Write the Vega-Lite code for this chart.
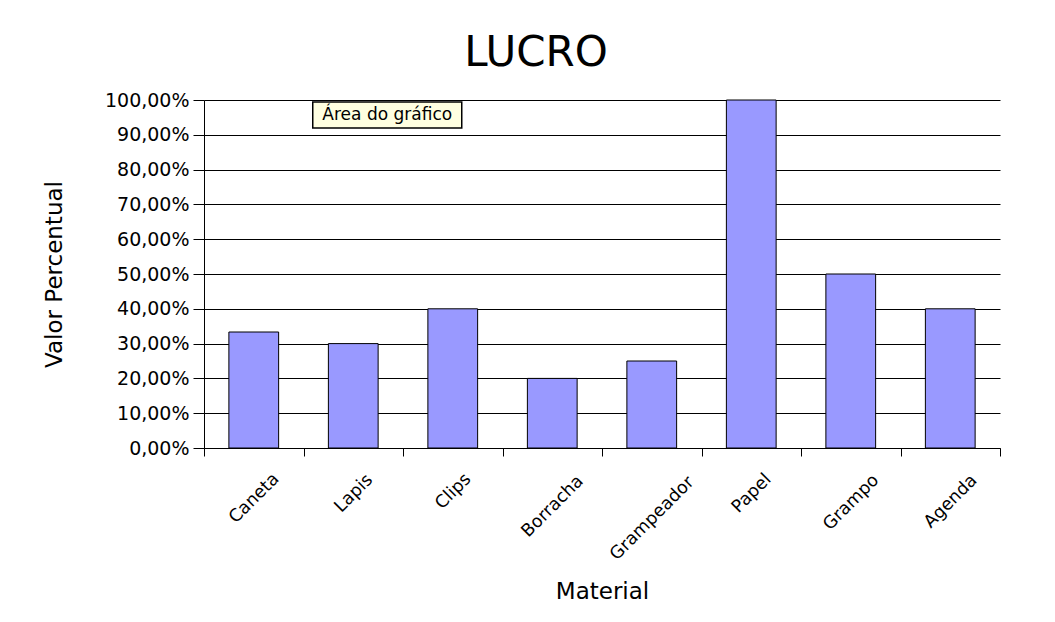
{
  "$schema": "https://vega.github.io/schema/vega-lite/v6.json",
  "autosize": {"type": "none"},
  "width": 796,
  "height": 348,
  "padding": {"left": 204, "top": 100, "right": 55, "bottom": 174},
  "background": "white",
  "title": {
    "text": "LUCRO",
    "font": "DejaVu Sans",
    "fontSize": 42,
    "fontWeight": "normal",
    "color": "black",
    "anchor": "middle",
    "dx": -66,
    "offset": 16
  },
  "config": {
    "view": {"stroke": null},
    "font": "DejaVu Sans"
  },
  "data": {
    "values": [
      {"Material": "Caneta", "Valor": 0.3333},
      {"Material": "Lapis", "Valor": 0.30},
      {"Material": "Clips", "Valor": 0.40},
      {"Material": "Borracha", "Valor": 0.20},
      {"Material": "Grampeador", "Valor": 0.25},
      {"Material": "Papel", "Valor": 1.00},
      {"Material": "Grampo", "Valor": 0.50},
      {"Material": "Agenda", "Valor": 0.40}
    ]
  },
  "encoding": {
    "x": {
      "field": "Material",
      "type": "nominal",
      "sort": ["Caneta", "Lapis", "Clips", "Borracha", "Grampeador", "Papel", "Grampo", "Agenda"],
      "scale": {"paddingInner": 0, "paddingOuter": 0},
      "axis": {
        "title": "Material",
        "titleFont": "DejaVu Sans",
        "titleFontSize": 23,
        "titleFontWeight": "normal",
        "titleColor": "black",
        "titlePadding": 18,
        "labelAngle": -45,
        "labelAlign": "center",
        "labelBaseline": "middle",
        "labelFontSize": 17.5,
        "labelColor": "black",
        "labelPadding": {
          "condition": [
            {"test": "datum.value === 'Caneta'", "value": 42},
            {"test": "datum.value === 'Lapis'", "value": 37},
            {"test": "datum.value === 'Clips'", "value": 35},
            {"test": "datum.value === 'Borracha'", "value": 50},
            {"test": "datum.value === 'Grampeador'", "value": 62},
            {"test": "datum.value === 'Papel'", "value": 37},
            {"test": "datum.value === 'Grampo'", "value": 46}
          ],
          "value": 45
        },
        "labelOverlap": false,
        "tickBand": "extent",
        "tickColor": "black",
        "tickSize": 8,
        "domainColor": "black",
        "grid": false
      }
    },
    "y": {
      "field": "Valor",
      "type": "quantitative",
      "scale": {"domain": [0, 1], "nice": false},
      "axis": {
        "title": "Valor Percentual",
        "titleFont": "DejaVu Sans",
        "titleFontSize": 23,
        "titleFontWeight": "normal",
        "titleColor": "black",
        "titlePadding": 38,
        "values": [0, 0.1, 0.2, 0.3, 0.4, 0.5, 0.6, 0.7, 0.8, 0.9, 1.0],
        "labelOverlap": false,
        "labelExpr": "replace(format(datum.value, '.2%'), '.', ',')",
        "labelFontSize": 19,
        "labelColor": "black",
        "labelPadding": 4,
        "tickColor": "black",
        "tickSize": 11,
        "domainColor": "black",
        "grid": true,
        "gridColor": "black",
        "gridOpacity": 1,
        "gridWidth": 1
      }
    }
  },
  "layer": [
    {
      "mark": {"type": "bar", "color": "#9999FF", "stroke": "black", "strokeWidth": 1, "width": {"band": 0.5}}
    },
    {
      "data": {"values": [{"Material": "Lapis", "Valor": 0.957, "Texto": "Área do gráfico"}]},
      "mark": {
        "type": "point",
        "shape": "M-1,-0.1745H1V0.1745H-1Z",
        "size": 22201,
        "filled": true,
        "fill": "#FFFFE1",
        "fillOpacity": 1,
        "stroke": "black",
        "strokeWidth": 1.5,
        "opacity": 1,
        "xOffset": 34
      }
    },
    {
      "data": {"values": [{"Material": "Lapis", "Valor": 0.957, "Texto": "Área do gráfico"}]},
      "mark": {"type": "text", "fontSize": 17, "color": "black", "dx": 34, "font": "DejaVu Sans"},
      "encoding": {
        "text": {"field": "Texto"}
      }
    }
  ]
}
